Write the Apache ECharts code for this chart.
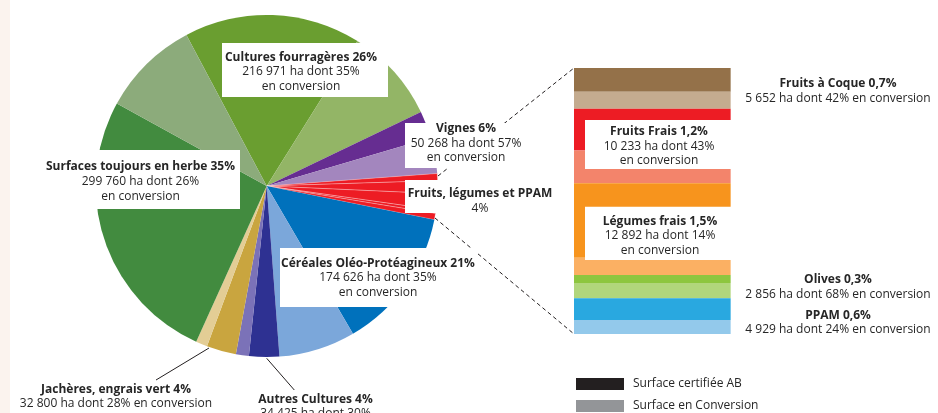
<!DOCTYPE html>
<html>
<head>
<meta charset="utf-8">
<script src="https://cdn.jsdelivr.net/npm/echarts@6/dist/echarts.min.js"></script>
<style>
  html, body { margin: 0; padding: 0; background: #fff; }
  #main { width: 938px; height: 413px; }
</style>
</head>
<body>
<div id="main"></div>
<script>
// surfaces bio (ha) : part certifiée / part en conversion
var cultures = ['Cultures fourragères', 'Vignes', 'Céréales Oléo-Protéagineux', 'Autres Cultures', 'Jachères, engrais vert', 'Surfaces toujours en herbe'];
var certHa = [141031, 21615, 113507, 24097, 23616, 221822];
var convHa = [75940, 28653, 61119, 10328, 9184, 77938];

// détail Fruits, légumes et PPAM
var fruits = ['Fruits à Coque', 'Fruits Frais', 'Légumes frais', 'Olives', 'PPAM'];
var fruitsHa = [5652, 10233, 12892, 2856, 4929];
var fruitsCertHa = [3260, 5740, 10240, 1100, 2990];
var fruitsConvHa = [2340, 4490, 2380, 2100, 1930];

var certColors = ['#6a9e30', '#662d91', '#0071bc', '#2e3192', '#c9a53f', '#428b3f'];
var convColors = ['#93b566', '#a386be', '#7ba7da', '#7b72b8', '#e3cd95', '#8cab7b'];
var fruitsCertColors = ['#947149', '#ed1c24', '#f7941d', '#8dc63f', '#29a8e0'];
var fruitsConvColors = ['#c4ab8f', '#f3846b', '#fbb063', '#b1d67c', '#93c9eb'];

var FONT = '"Open Sans", sans-serif';
var TXT = '#262626';

var pieData = [];
for (let i = 0; i < cultures.length; i++) {
    pieData.push({ name: cultures[i] + ' AB', value: certHa[i], itemStyle: { color: certColors[i] } });
    pieData.push({ name: cultures[i] + ' conversion', value: convHa[i], itemStyle: { color: convColors[i] } });
    if (i === 1) {
        for (let j = 0; j < fruits.length; j++) {
            pieData.push({
                name: fruits[j], value: fruitsHa[j],
                itemStyle: { color: '#ed1c24', borderColor: 'rgba(255,255,255,0.55)', borderWidth: 0.5 }
            });
        }
    }
}

// barre empilée, de haut en bas
var barSeries = [];
for (let j = 0; j < fruits.length; j++) {
    barSeries.push({ name: fruits[j] + ' AB', type: 'bar', stack: 'f', barWidth: '100%', data: [fruitsCertHa[j]], itemStyle: { color: fruitsCertColors[j] } });
    barSeries.push({ name: fruits[j] + ' conversion', type: 'bar', stack: 'f', barWidth: '100%', data: [fruitsConvHa[j]], itemStyle: { color: fruitsConvColors[j] } });
}
// séries vides pour la légende
barSeries.push({ name: 'Surface certifiée AB', type: 'bar', data: [], itemStyle: { color: '#231f20' } });
barSeries.push({ name: 'Surface en Conversion', type: 'bar', data: [], itemStyle: { color: '#939598' } });

function box(x, y, w, h) {
    return { type: 'rect', z: 10, shape: { x: x, y: y, width: w, height: h }, style: { fill: '#fff' } };
}
function label(x, y, lines, lh) {
    lh = lh || 14.5;
    var txt = '{b|' + lines[0] + '}';
    for (let k = 1; k < lines.length; k++) txt += '\n{r|' + lines[k] + '}';
    return {
        type: 'text', z: 11,
        style: {
            x: x, y: y, text: txt, align: 'center', verticalAlign: 'middle',
            fill: TXT, fontFamily: FONT, fontSize: 12, lineHeight: lh,
            rich: {
                b: { fontFamily: FONT, fontSize: 12, fontWeight: 'bold', fill: TXT, lineHeight: lh, align: 'center' },
                r: { fontFamily: FONT, fontSize: 12, fill: TXT, lineHeight: lh, align: 'center' }
            }
        }
    };
}
function line(x1, y1, x2, y2, dashed) {
    return {
        type: 'line', z: 5, shape: { x1: x1, y1: y1, x2: x2, y2: y2 },
        style: { stroke: '#231f20', lineWidth: 1, lineDash: dashed ? [4, 3] : null }
    };
}

var chart = echarts.init(document.getElementById('main'), null, { renderer: 'canvas' });
chart.setOption({
    animation: false,
    legend: {
        data: ['Surface certifiée AB', 'Surface en Conversion'],
        orient: 'vertical', left: 576, top: 378, height: 80,
        icon: 'rect', itemWidth: 48, itemHeight: 12, itemGap: 10,
        padding: 0,
        selectedMode: false,
        textStyle: { fontFamily: FONT, fontSize: 12, color: TXT, padding: [0, 0, 0, 4] }
    },
    grid: { left: 574, top: 68, width: 166, height: 266 },
    xAxis: { type: 'category', data: ['fruits'], show: false },
    yAxis: { type: 'value', min: 0, max: 'dataMax', inverse: true, show: false },
    series: [{
        type: 'pie',
        center: [266.7, 186],
        radius: 171,
        startAngle: 118,
        clockwise: true,
        silent: true,
        label: { show: false },
        labelLine: { show: false },
        data: pieData
    }].concat(barSeries),
    graphic: [
        { type: 'rect', z: 1, shape: { x: 0, y: 0, width: 10, height: 413 }, style: { fill: '#fbf3ee' } },
        line(438, 176, 574, 68, true),
        line(435, 218, 574, 334, true),
        line(209, 348, 156, 380),
        line(266.7, 358.3, 294.3, 390),
        box(222, 43, 166, 54),
        label(301, 72, ['Cultures fourragères 26%', '216 971 ha dont 35%', 'en conversion'], 14.5),
        box(40, 150, 200, 59),
        label(140.5, 181.7, ['Surfaces toujours en herbe 35%', '299 760 ha dont 26%', 'en conversion'], 15),
        box(405, 123, 125, 45),
        label(466, 143.3, ['Vignes 6%', '50 268 ha dont 57%', 'en conversion'], 14.3),
        box(405, 180, 152, 33),
        label(480, 200.8, ['Fruits, légumes et PPAM', '4%'], 15),
        box(280, 248, 198, 59),
        label(378, 277.8, ['Céréales Oléo-Protéagineux 21%', '174 626 ha dont 35%', 'en conversion'], 14.5),
        label(116, 397, ['Jachères, engrais vert 4%', '32 800 ha dont 28% en conversion'], 14),
        label(315.5, 406.4, ['Autres Cultures 4%', '34 425 ha dont 30%'], 14.2),
        box(585, 120, 146, 49),
        label(659, 146.2, ['Fruits Frais 1,2%', '10 233 ha dont 43%', 'en conversion'], 14.5),
        box(585, 206.7, 146, 53.3),
        label(660, 235.7, ['Légumes frais 1,5%', '12 892 ha dont 14%', 'en conversion'], 14.4),
        label(838, 91.5, ['Fruits à Coque 0,7%', '5 652 ha dont 42% en conversion'], 15),
        label(838, 287.5, ['Olives 0,3%', '2 856 ha dont 68% en conversion'], 15),
        label(838, 322.5, ['PPAM 0,6%', '4 929 ha dont 24% en conversion'], 13.6)
    ]
});
</script>
</body>
</html>
